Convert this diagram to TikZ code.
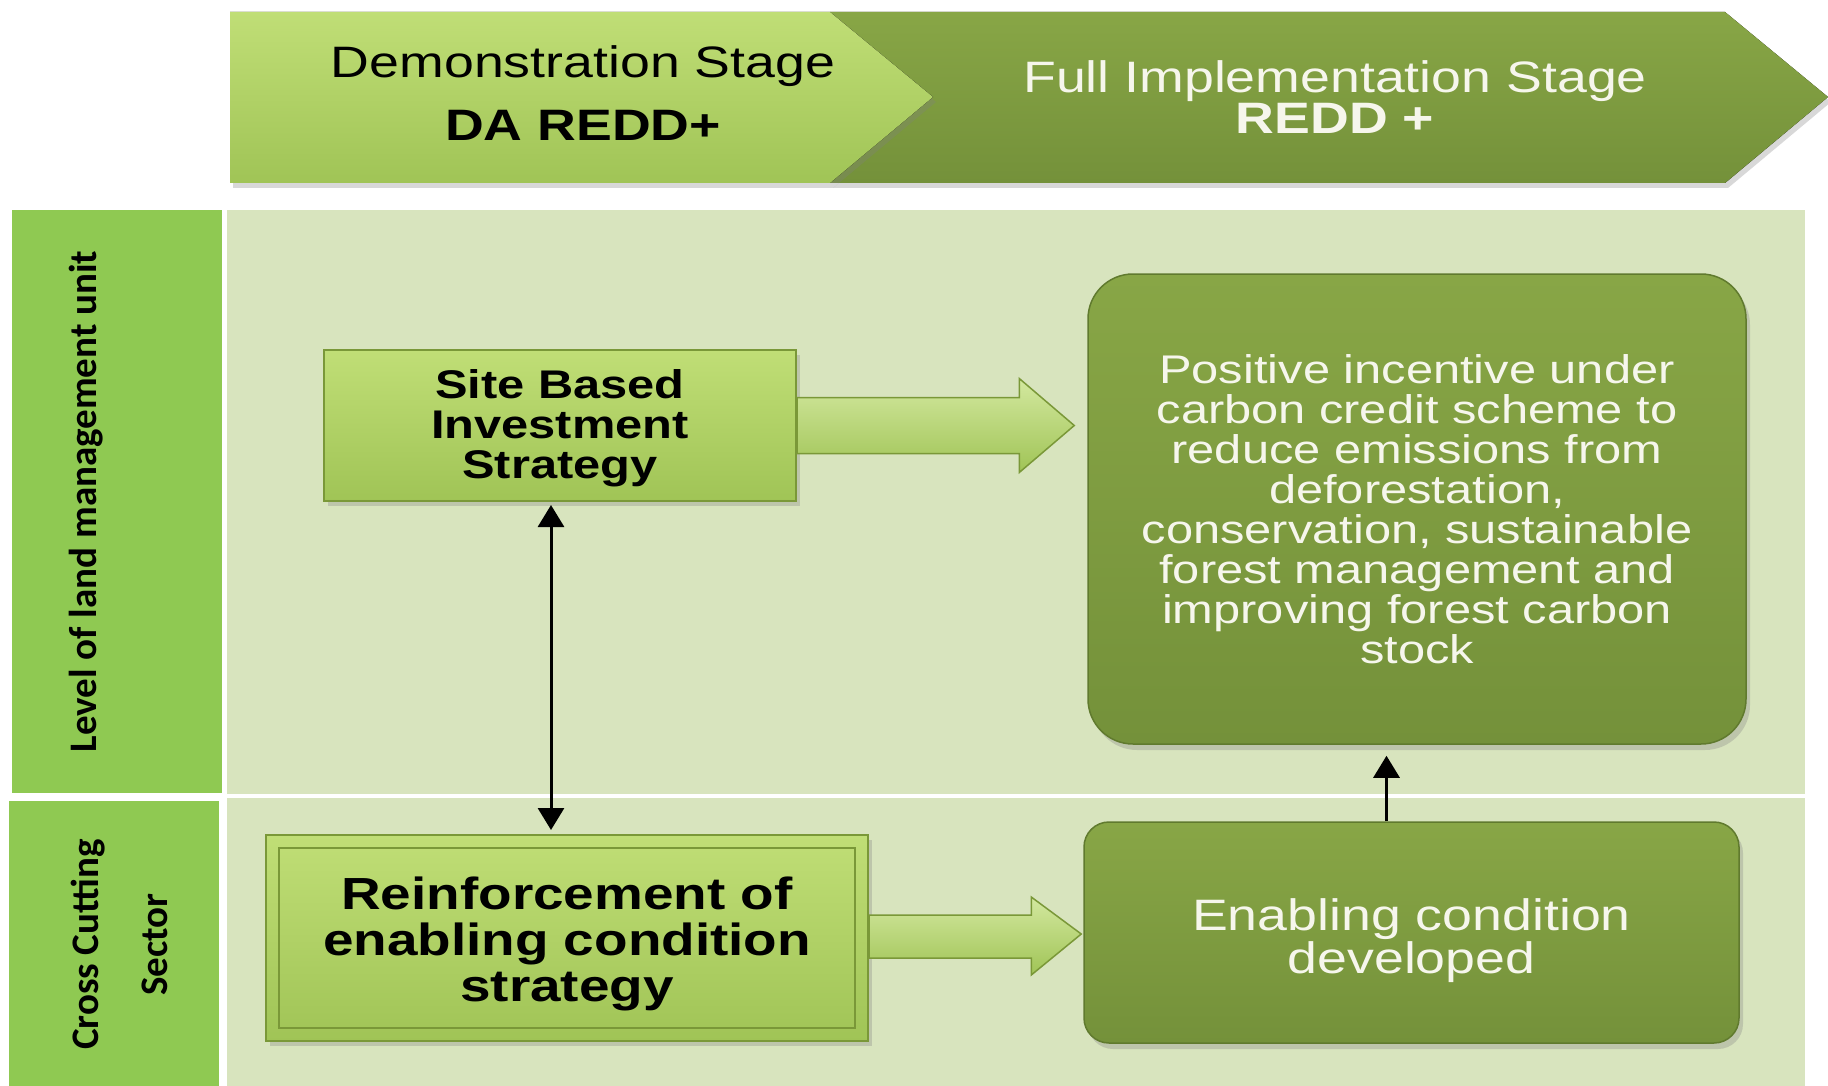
\documentclass[tikz,border=0pt]{standalone}
\usepackage{fontspec}
\setmainfont{Liberation Sans}[FakeStretch=1.22]
\newfontfamily\labelfont{Carlito}
\usetikzlibrary{arrows.meta,calc,shadows}
\definecolor{olivegreen}{RGB}{116,145,58}
\definecolor{olivetop}{RGB}{136,166,70}
\definecolor{oliveedge}{RGB}{96,122,46}
\definecolor{limegreen}{RGB}{160,196,86}
\definecolor{limetop}{RGB}{192,222,118}
\definecolor{limeedge}{RGB}{122,152,56}
\definecolor{rowgreen}{RGB}{216,228,190}
\definecolor{tabgreen}{RGB}{143,201,82}
\definecolor{softwhite}{RGB}{246,246,236}

\begin{document}
\begin{tikzpicture}[x=1pt,y=-1pt,
  tabtext/.style={rotate=90, align=center, font=\labelfont\bfseries\fontsize{39}{69}\selectfont},
  limebox/.style={draw=limeedge, line width=2pt, top color=limetop, bottom color=limegreen, align=center, inner sep=0pt, drop shadow={opacity=0.3, shadow xshift=4pt, shadow yshift=-5pt}},
  olivebox/.style={draw=oliveedge, line width=1.5pt, top color=olivetop, bottom color=olivegreen, align=center, text=softwhite, inner sep=0pt, drop shadow={opacity=0.3, shadow xshift=4pt, shadow yshift=-6pt}},
  blockarrow/.style={draw=limeedge, line width=1.5pt, top color=limetop!70!white, bottom color=limegreen},
  thinarrow/.style={line width=3pt, -{Triangle[width=26pt,length=22pt]}}
]
\useasboundingbox[fill=white] (0,0) rectangle (1828,1086);

% Stage banner
\fill[top color=olivetop, bottom color=olivegreen, drop shadow={opacity=0.3, shadow xshift=3pt, shadow yshift=-5pt}]
  (830,12) -- (1725,12) -- (1828,97) -- (1725,183) -- (830,183) -- (933,97) -- cycle;
\fill[top color=limetop, bottom color=limegreen, drop shadow={opacity=0.3, shadow xshift=3pt, shadow yshift=-5pt}]
  (230,12) -- (830,12) -- (933,97) -- (830,183) -- (230,183) -- cycle;
\node[font=\fontsize{44}{44}\selectfont] (demo) at (583,66) {Demonstration Stage};
\node[font=\bfseries\fontsize{44}{44}\selectfont] (daredd) at (583,125) {DA REDD+};
\node[align=center, text=softwhite, font=\fontsize{44}{41}\selectfont] (full) at (1335,97) {Full Implementation Stage\\\textbf{REDD +}};

% Rows
\fill[rowgreen] (227,210) rectangle (1805,794);
\fill[rowgreen] (227,798) rectangle (1805,1086);
\node[fill=tabgreen, minimum width=210pt, minimum height=583pt, inner sep=0pt] (leveltab) at (117,501.5) {};
\node[tabtext] (levellabel) at ($(leveltab.center)+(-31,0)$) {Level of land management unit};
\node[fill=tabgreen, minimum width=210pt, minimum height=285pt, inner sep=0pt] (crosstab) at (114,943.5) {};
\node[tabtext] (crosslabel) at ($(crosstab.center)+(5,1)$) {Cross Cutting\\Sector};

% Boxes
\node[limebox, minimum width=472pt, minimum height=151pt, font=\bfseries\fontsize{40}{40}\selectfont] (site) at (560,425.5) {\rule{0pt}{35pt}Site Based\\Investment\\Strategy};
\node[limebox, minimum width=602pt, minimum height=206pt, font=\bfseries\fontsize{45}{46}\selectfont] (reinf) at (567,938) {\rule{0pt}{45pt}Reinforcement of\\enabling condition\\strategy};
\draw[limeedge, line width=2pt] ([shift={(14,14)}]reinf.north west) rectangle ([shift={(-14,-14)}]reinf.south east);
\node[olivebox, rounded corners=45pt, minimum width=658pt, minimum height=470pt, font=\fontsize{40}{40}\selectfont] (positive) at (1417,509) {Positive incentive under\\carbon credit scheme to\\reduce emissions from\\deforestation,\\conservation, sustainable\\forest management and\\improving forest carbon\\stock};
\node[olivebox, rounded corners=25pt, minimum width=655pt, minimum height=221pt, font=\fontsize{44}{43}\selectfont] (enabling) at (1411.5,932.5) {\rule{0pt}{48pt}Enabling condition\\developed};

% Block arrows
\path[blockarrow] ($(site.east)+(0,-28)$) -- ($(site.east -| positive.west)+(-68,-28)$) -- ($(site.east -| positive.west)+(-68,-47)$)
  -- ($(site.east -| positive.west)+(-13,0)$) -- ($(site.east -| positive.west)+(-68,47)$) -- ($(site.east -| positive.west)+(-68,28)$)
  -- ($(site.east)+(0,28)$) -- cycle;
\path[blockarrow] ($(reinf.east)+(0,-23)$) -- ($(reinf.east -| enabling.west)+(-52,-23)$) -- ($(reinf.east -| enabling.west)+(-52,-41)$)
  -- ($(reinf.east -| enabling.west)+(-2,-4)$) -- ($(reinf.east -| enabling.west)+(-52,37)$) -- ($(reinf.east -| enabling.west)+(-52,20)$)
  -- ($(reinf.east)+(0,20)$) -- cycle;

% Arrows
\draw[thinarrow, {Triangle[width=26pt,length=22pt]}-{Triangle[width=26pt,length=22pt]}, shorten <=3pt, shorten >=4pt] ([xshift=-9pt]site.south) -- ([xshift=-9pt]site.south |- reinf.north);
\draw[thinarrow, shorten >=11pt] ([xshift=-25pt]enabling.north) -- ([xshift=-25pt]enabling.north |- positive.south);
\end{tikzpicture}
\end{document}
